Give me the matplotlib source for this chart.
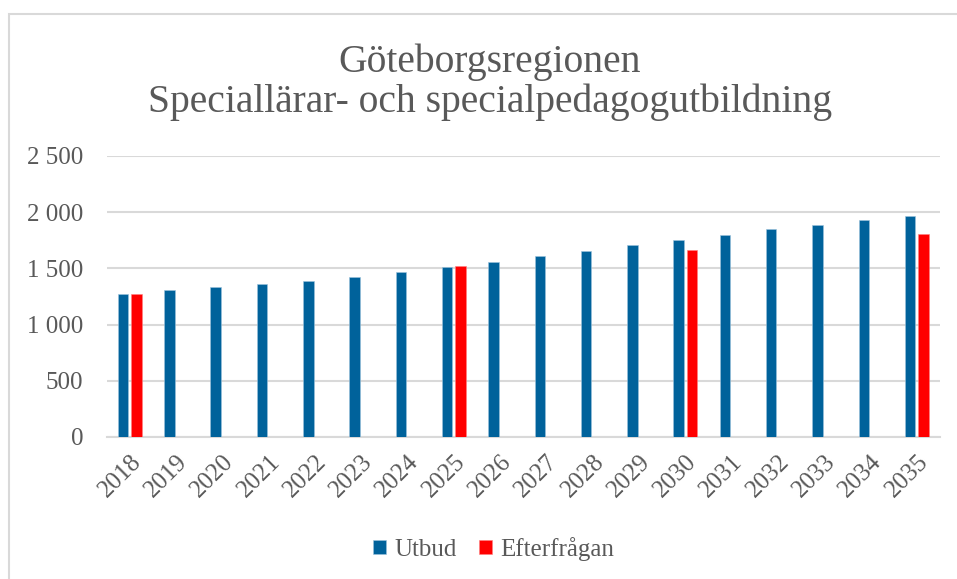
import numpy as np
import matplotlib
matplotlib.use("Agg")
from matplotlib import pyplot as plt
from matplotlib.patches import Rectangle
from matplotlib.ticker import FuncFormatter

# data
years = [str(y) for y in range(2018, 2036)]
utbud = [1271, 1312, 1337, 1361, 1390, 1423, 1470, 1512, 1560,
         1607, 1658, 1709, 1753, 1801, 1846, 1890, 1929, 1964]
efterfragan = {'2018': 1268, '2025': 1518, '2030': 1664, '2035': 1810}

blue = '#00629B'
red = '#FF0000'
grey_txt = '#595959'
grid_col = '#D9D9D9'

plt.rcParams['font.family'] = ['Liberation Serif', 'DejaVu Serif']

fig = plt.figure(figsize=(9.57, 5.79), dpi=100)
# light border of the chart area (top and left visible)
fig.patches.append(Rectangle((9 / 957, -0.05), 1.1, 1 - 14 / 579 + 0.05,
                             transform=fig.transFigure, fill=False,
                             edgecolor='#D9D9D9', lw=1.5))

ax = fig.add_axes([0.1115, 0.2453, 0.8707, 0.4853])

x = np.arange(len(years))
w = 0.227
off = 0.145
ax.bar(x - off, utbud, width=w, color=blue, edgecolor='#9CC3DD', lw=0.4,
       label='Utbud', zorder=3)
ex = [years.index(k) for k in efterfragan]
ax.bar(np.array(ex) + off, list(efterfragan.values()), width=w, color=red,
       edgecolor='#FF8080', lw=0.4, label='Efterfrågan', zorder=3)

ax.set_xlim(-0.5, len(years) - 0.5)
ax.set_ylim(0, 2500)
ax.set_yticks(range(0, 2501, 500))
ax.yaxis.set_major_formatter(FuncFormatter(lambda v, p: f'{int(v):,}'.replace(',', ' ')))
ax.grid(axis='y', color=grid_col, lw=1.5, zorder=0)
for s in ['top', 'right', 'left']:
    ax.spines[s].set_visible(False)
ax.spines['bottom'].set_color(grid_col)
ax.spines['bottom'].set_linewidth(1.5)
ax.tick_params(axis='both', length=0, colors=grey_txt, labelsize=18)
ax.tick_params(axis='y', pad=17)
ax.set_xticks(x)
ax.set_xticklabels(years, rotation=45, ha='right', rotation_mode='anchor')
ax.tick_params(axis='x', pad=10)

fig.text(0.512, 0.858, 'Göteborgsregionen\nSpeciallärar- och specialpedagogutbildning',
         ha='center', va='center', fontsize=28.5, color=grey_txt, linespacing=1.1)

ax.legend(loc='center', bbox_to_anchor=(0.516, 0.052), ncol=2, frameon=False,
          fontsize=18, labelcolor=grey_txt, handlelength=0.5, handleheight=0.5,
          handletextpad=0.35, columnspacing=0.9, bbox_transform=fig.transFigure)

plt.savefig('out.png', dpi=100)
